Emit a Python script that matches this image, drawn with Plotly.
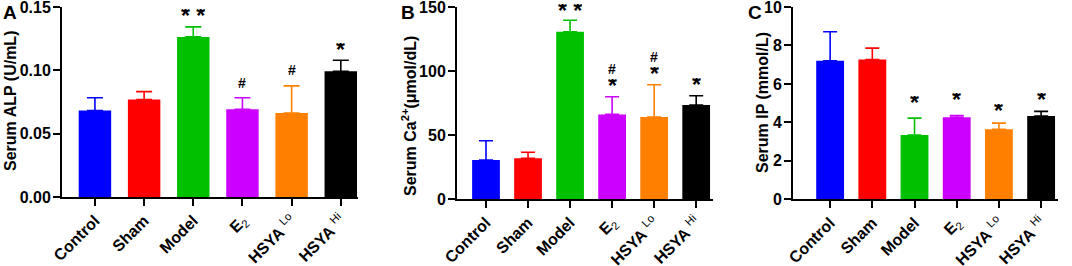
import plotly.graph_objects as go

categories = ["Control", "Sham", "Model", "E2", "HSYA Lo", "HSYA Hi"]
tick_labels = ["<b>Control</b>", "<b>Sham</b>", "<b>Model</b>", "<b>E</b><sub>2</sub>",
               "<b>HSYA</b> <sup>Lo</sup>", "<b>HSYA</b> <sup>Hi</sup>"]
colors = ["#0000FF", "#FF0000", "#00C000", "#CC00FF", "#FF8000", "#000000"]

alp_mean = [0.0682, 0.0769, 0.1264, 0.0693, 0.0663, 0.0993]
alp_top = [0.0784, 0.0832, 0.1343, 0.0784, 0.0877, 0.1080]
ca_mean = [30.5, 31.8, 130.7, 66.1, 64.1, 73.4]
ca_top = [45.5, 36.5, 139.6, 79.9, 89.3, 80.7]
ip_mean = [7.20, 7.27, 3.34, 4.27, 3.64, 4.33]
ip_top = [8.71, 7.86, 4.22, 4.36, 3.96, 4.57]

# significance marks: (category, text, y)
alp_marks = [("Model", "* *", 0.143), ("E2", "#", 0.090), ("HSYA Lo", "#", 0.101), ("HSYA Hi", "*", 0.1158)]
ca_marks = [("Model", "* *", 147), ("E2", "#", 102.3), ("E2", "*", 88.5),
            ("HSYA Lo", "#", 111.7), ("HSYA Lo", "*", 97.8), ("HSYA Hi", "*", 89.3)]
ip_marks = [("Model", "*", 5.0), ("E2", "*", 5.16), ("HSYA Lo", "*", 4.6), ("HSYA Hi", "*", 5.16)]

W, H = 1072, 266
MT, MB = 6, 64
PH = H - MT - MB

def py(pix):
    return (H - MB - pix) / PH

panels = [
    dict(mean=alp_mean, top=alp_top, marks=alp_marks, xd=(62, 358), yd=(197, 7), rng=[0, 0.15],
         dtick=0.05, fmt=".2f", title="<b>Serum ALP (U/mL)</b>", tx=10, ty=101, letter="A", lx=10,
         xr=[-0.67, 5.35], cap=8, bw=0.66),
    dict(mean=ca_mean, top=ca_top, marks=ca_marks, xd=(457, 713), yd=(199, 7), rng=[0, 150],
         dtick=50, fmt="d", title="<b>Serum Ca<sup>2+</sup>(μmol/dL)</b>", tx=409, ty=116, letter="B", lx=408,
         xr=[-0.69, 5.40], cap=7, bw=0.66),
    dict(mean=ip_mean, top=ip_top, marks=ip_marks, xd=(793, 1058), yd=(199.3, 7), rng=[0, 10],
         dtick=2, fmt="d", title="<b>Serum IP (mmol/L)</b>", tx=762, ty=103, letter="C", lx=755,
         xr=[-0.88, 5.40], cap=7, bw=0.66),
]

fig = go.Figure()
font_fam = "Liberation Sans, Arial, sans-serif"
annotations = []
for i, p in enumerate(panels, start=1):
    sfx = "" if i == 1 else str(i)
    xs = list(range(len(categories)))
    fig.add_trace(go.Bar(
        x=xs, y=p["mean"], marker=dict(color=colors, line=dict(width=0)), width=p["bw"],
        xaxis="x" + sfx, yaxis="y" + sfx, showlegend=False))
    for j in xs:
        fig.add_trace(go.Scatter(
            x=[j], y=[p["mean"][j]], mode="markers", marker=dict(size=1, opacity=0),
            error_y=dict(type="data", array=[p["top"][j] - p["mean"][j]], arrayminus=[0], symmetric=False,
                         color=colors[j], thickness=1.6, width=p["cap"]),
            xaxis="x" + sfx, yaxis="y" + sfx, showlegend=False, hoverinfo="skip"))
    xd = [p["xd"][0] / W, p["xd"][1] / W]
    yd = [py(p["yd"][0]), py(p["yd"][1])]
    fig.update_layout(**{
        "xaxis" + sfx: dict(domain=xd, range=p["xr"], anchor="y" + sfx, automargin=False,
                            tickmode="array", tickvals=xs, ticktext=tick_labels, ticklabeloverflow="allow",
                            ticklabelstandoff=-1,
                            tickangle=-45, ticks="outside", ticklen=7, tickwidth=2, tickcolor="black",
                            showline=True, linecolor="black", linewidth=2, showgrid=False, zeroline=False,
                            tickfont=dict(family=font_fam, size=16, color="black")),
        "yaxis" + sfx: dict(domain=yd, range=p["rng"], anchor="x" + sfx, dtick=p["dtick"], automargin=False,
                            tickformat=p["fmt"], ticks="outside", ticklen=7, tickwidth=2, tickcolor="black",
                            ticklabeloverflow="allow", ticklabelstandoff=-1,
                            showline=True, linecolor="black", linewidth=2, showgrid=False, zeroline=False,
                            tickfont=dict(family=font_fam, size=16, color="black", weight="bold")),
    })
    for cat, txt, yv in p["marks"]:
        is_hash = txt == "#"
        fs = 14 if is_hash else 23
        annotations.append(dict(x=categories.index(cat), y=yv, xref="x" + sfx, yref="y" + sfx,
                                text="<b>%s</b>" % txt, showarrow=False, yanchor="middle", valign="middle",
                                height=11 if is_hash else 14,
                                font=dict(family=font_fam, size=fs, color="black")))
    annotations.append(dict(x=p["tx"] / W, y=py(p["ty"]), xref="paper", yref="paper", text=p["title"],
                            textangle=-90, showarrow=False, xanchor="center", yanchor="middle",
                            font=dict(family=font_fam, size=16, color="black")))
    annotations.append(dict(x=p["lx"] / W, y=py(13), xref="paper", yref="paper", text="<b>%s</b>" % p["letter"],
                            showarrow=False, xanchor="center", yanchor="middle",
                            font=dict(family=font_fam, size=19, color="black")))

fig.update_layout(width=W, height=H, margin=dict(l=0, r=0, t=MT, b=MB, autoexpand=False),
                  plot_bgcolor="white", paper_bgcolor="white", annotations=annotations)
fig.write_html("out.html", config={"displayModeBar": False, "responsive": False},
               post_script="document.documentElement.style.margin='0';document.body.style.margin='0';"
                           "document.body.style.padding='0';document.body.style.overflow='hidden';")
